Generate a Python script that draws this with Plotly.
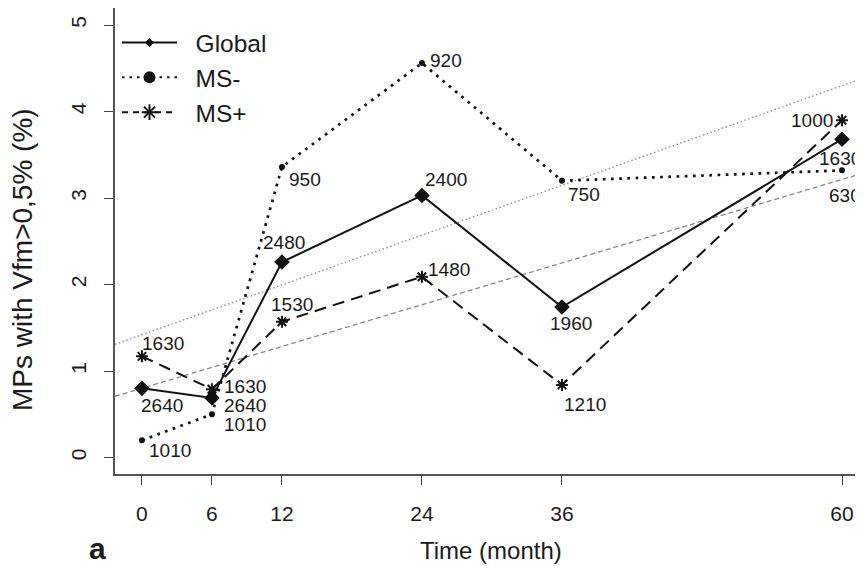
import numpy as np
import plotly.graph_objects as go

# ---- data ----
months = [0, 6, 12, 24, 36, 60]
global_vals = [0.80, 0.69, 2.26, 3.03, 1.74, 3.68]
ms_neg_vals = [0.20, 0.50, 3.36, 4.56, 3.20, 3.32]
ms_pos_vals = [1.17, 0.79, 1.57, 2.09, 0.84, 3.90]
global_n = ["2640", "2640", "2480", "2400", "1960", "1630"]
ms_neg_n = ["1010", "1010", "950", "920", "750", "630"]
ms_pos_n = ["1630", "1630", "1530", "1480", "1210", "1000"]
x_ticks = [0, 6, 12, 24, 36, 60]
y_ticks = [0, 1, 2, 3, 4, 5]

# ---- styling ----
# the page body adds an 8px offset; the figure is shifted to compensate
OX, OY = 8, 8
W, H = 863 - OX, 572 - OY
L, R, T = 115 - OX, 0, 0
PLOT_BOTTOM = 474 - OY          # figure px
B = H - PLOT_BOTTOM
PW, PH = W - L - R, PLOT_BOTTOM - T
X_RANGE = [-2.31, 61.8]
Y_RANGE = [-0.19, 5.197]
FONT = "Liberation Sans, Arial, sans-serif"
TXT = "#1a1a1a"


def px(wx):  # window x -> paper x
    return (wx - OX - L) / PW


def py(wy):  # window y -> paper y
    return (PLOT_BOTTOM - (wy - OY)) / PH


# label pixel offsets (dx right, dy down)
g_off = [(20, 17), (33, 8), (2, -20), (24, -16), (9, 16), (-2, 19)]
n_off = [(28, 10), (33, 10), (23, 13), (24, -3), (22, 14), (3, 25)]
p_off = [(21, -13), (33, -3), (10, -17), (27, -7), (23, 20), (-30, 0)]

fig = go.Figure()

# regression lines (computed from the data)
xr = np.array(X_RANGE)
for vals, dash in [(ms_neg_vals, "1.5px,2.5px"), (ms_pos_vals, "5px,3px")]:
    slope, icpt = np.polyfit(months, vals, 1)
    fig.add_trace(go.Scatter(x=xr, y=icpt + slope * xr, mode="lines",
                             line=dict(color="#8a8a8a", width=1.3, dash=dash),
                             showlegend=False, hoverinfo="skip"))

fig.add_trace(go.Scatter(x=months, y=ms_neg_vals, mode="lines+markers",
                         line=dict(color="#111", width=2.7, dash="2.7px,5.5px"),
                         marker=dict(symbol="circle", size=6, color="#111"),
                         showlegend=False))
fig.add_trace(go.Scatter(x=months, y=ms_pos_vals, mode="lines+markers",
                         line=dict(color="#111", width=2, dash="12px,7px"),
                         marker=dict(symbol="asterisk-open", size=10,
                                     line=dict(color="#111", width=2)),
                         showlegend=False))
fig.add_trace(go.Scatter(x=months, y=global_vals, mode="lines+markers",
                         line=dict(color="#111", width=2),
                         marker=dict(symbol="diamond", size=12, color="#111"),
                         showlegend=False))

# legend entries
NB = "\u00a0\u00a0"
leg = [("Global", dict(color="#111", width=2), dict(symbol="diamond", size=7, color="#111")),
       ("MS-", dict(color="#111", width=2, dash="2.5px,5px"), dict(symbol="circle", size=12, color="#111")),
       ("MS+", dict(color="#111", width=2, dash="6px,5px"),
        dict(symbol="asterisk-open", size=13, line=dict(color="#111", width=2)))]
for i, (name, ln, mk) in enumerate(leg):
    fig.add_trace(go.Scatter(x=[None], y=[None], mode="lines+markers", name=NB + name,
                             line=ln, marker=mk, legendgroup=f"g{i}"))

ann = []
for vals, labs, offs in [(global_vals, global_n, g_off), (ms_neg_vals, ms_neg_n, n_off),
                         (ms_pos_vals, ms_pos_n, p_off)]:
    for m, v, lab, (dx, dy) in zip(months, vals, labs, offs):
        ann.append(dict(x=m, y=v, xref="x", yref="y", text=lab, showarrow=False,
                        xshift=dx, yshift=-dy, xanchor="center", yanchor="middle",
                        font=dict(family=FONT, size=19, color=TXT)))

ann.append(dict(x=px(22), y=py(260), xref="paper", yref="paper",
                text="MPs with Vfm>0,5% (%)", textangle=-90, showarrow=False,
                xanchor="center", yanchor="middle",
                font=dict(family=FONT, size=28, color=TXT)))
ann.append(dict(x=px(491), y=py(550), xref="paper", yref="paper",
                text="Time (month)", showarrow=False,
                xanchor="center", yanchor="middle",
                font=dict(family=FONT, size=24, color=TXT)))
ann.append(dict(x=px(97), y=py(548), xref="paper", yref="paper",
                text="<b>a</b>", showarrow=False,
                xanchor="center", yanchor="middle",
                font=dict(family=FONT, size=30, color=TXT)))

fig.update_layout(
    width=W, height=H,
    margin=dict(l=L, r=R, t=T, b=B, autoexpand=False),
    plot_bgcolor="white", paper_bgcolor="white",
    font=dict(family=FONT, color=TXT),
    annotations=ann,
    legend=dict(x=px(117), y=py(20), xanchor="left", yanchor="top",
                bgcolor="rgba(0,0,0,0)", font=dict(family=FONT, size=24.5, color=TXT),
                tracegroupgap=0, itemwidth=55),
    xaxis=dict(range=X_RANGE, tickvals=x_ticks, ticks="outside", ticklen=9,
               tickwidth=1.3, tickcolor="#444", showline=True, mirror=True,
               linecolor="#555", linewidth=1.5, showgrid=False, zeroline=False,
               tickfont=dict(family=FONT, size=21, color=TXT), ticklabelstandoff=11),
    yaxis=dict(range=Y_RANGE, tickvals=y_ticks, ticks="outside", ticklen=9,
               tickwidth=1.3, tickcolor="#444", showline=True, mirror=False,
               linecolor="#555", linewidth=1.5, showgrid=False, zeroline=False,
               tickangle=-90, tickfont=dict(family=FONT, size=21, color=TXT),
               ticklabelstandoff=10),
)

fig.write_html("out.html")
